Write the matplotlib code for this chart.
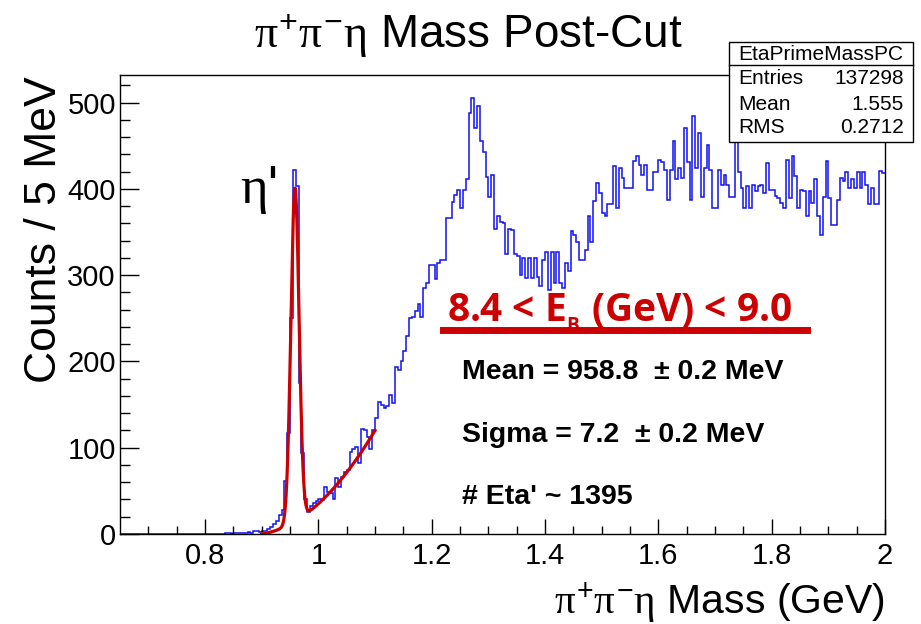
import numpy as np
import matplotlib
matplotlib.use("Agg")
import matplotlib.pyplot as plt
from matplotlib.patches import Rectangle
from matplotlib.lines import Line2D

plt.rcParams["font.family"] = ["Liberation Sans", "DejaVu Sans"]
plt.rcParams["mathtext.fontset"] = "custom"
plt.rcParams["mathtext.rm"] = "Liberation Sans"
plt.rcParams["mathtext.it"] = "Liberation Serif"
plt.rcParams["mathtext.bf"] = "Liberation Sans:bold"

# histogram: 5 MeV bins from 0.65 to 2.00 GeV, one row per 50 MeV
bin_lo = 0.65
bin_w = 0.005
counts = [
    0, 0, 0, 0, 0, 0, 0, 0, 0, 0,                      # 0.65
    0, 0, 0, 0, 0, 0, 0, 0, 0, 0,                      # 0.70
    0, 0, 0, 0, 0, 0, 0, 0, 0, 0,                      # 0.75
    0, 0, 0, 0, 0, 0, 0, 1, 1, 0,                      # 0.80
    1, 1, 1, 1, 1, 2, 1, 4, 4, 2,                      # 0.85
    3, 4, 6, 8, 12, 15, 22, 28, 61, 117,               # 0.90
    250, 422, 403, 175, 94, 40, 25, 32, 36, 38,        # 0.95
    41, 39, 55, 49, 48, 40, 65, 55, 66, 72,            # 1.00
    74, 95, 99, 101, 82, 122, 121, 113, 99, 121,       # 1.05
    134, 153, 150, 146, 148, 161, 152, 194, 190, 200,  # 1.10
    212, 229, 250, 252, 258, 266, 252, 285, 291, 312,  # 1.15
    312, 296, 314, 318, 318, 366, 366, 385, 393, 399,  # 1.20
    378, 399, 411, 488, 505, 470, 496, 455, 443, 414,  # 1.25
    391, 416, 354, 368, 362, 360, 325, 354, 352, 325,  # 1.30
    322, 300, 320, 297, 320, 297, 320, 298, 287, 318,  # 1.35
    327, 283, 327, 291, 327, 291, 285, 314, 305, 351,  # 1.40
    347, 339, 318, 318, 329, 368, 339, 386, 407, 395,  # 1.45
    372, 368, 382, 382, 426, 378, 424, 413, 401, 401,  # 1.50
    401, 432, 438, 428, 416, 428, 399, 399, 420, 420,  # 1.55
    433, 431, 422, 387, 422, 455, 411, 424, 413, 470,  # 1.60
    431, 387, 484, 424, 465, 391, 424, 451, 422, 378,  # 1.65
    378, 422, 405, 416, 405, 391, 391, 463, 420, 401,  # 1.70
    378, 403, 378, 405, 397, 403, 405, 395, 430, 399,  # 1.75
    399, 392, 389, 384, 378, 434, 389, 438, 415, 378,  # 1.80
    399, 397, 368, 397, 384, 411, 368, 347, 391, 432,  # 1.85
    389, 358, 358, 387, 413, 409, 419, 401, 411, 401,  # 1.90
    419, 401, 419, 405, 382, 401, 382, 382, 421, 418,  # 1.95
]

# gaussian + quadratic background fit of the eta' peak
fit_mean = 0.9588
fit_sigma = 0.0072
fit_yield = 1395
fit_range = (0.90, 1.10)
bkg_p1 = 100.0
bkg_p2 = 2500.0

x_ticks = [0.8, 1.0, 1.2, 1.4, 1.6, 1.8, 2.0]
x_tick_labels = ["0.8", "1", "1.2", "1.4", "1.6", "1.8", "2"]
y_ticks = [0, 100, 200, 300, 400, 500]

stats_name = "EtaPrimeMassPC"
stats_rows = [("Entries", "137298"), ("Mean", "1.555"), ("RMS", "0.2712")]

W, H = 921, 624
fig = plt.figure(figsize=(W / 100, H / 100), dpi=100)
ax = fig.add_axes([120 / W, 1 - 534 / H, 765 / W, 459 / H])

edges = bin_lo + bin_w * np.arange(len(counts) + 1)
ax.stairs(counts, edges, color="#1010f0", lw=1.1, baseline=None)

xf = np.linspace(fit_range[0], fit_range[1], 400)
gauss = fit_yield * bin_w / (np.sqrt(2 * np.pi) * fit_sigma) * np.exp(-0.5 * ((xf - fit_mean) / fit_sigma) ** 2)
bkg = bkg_p1 * (xf - fit_range[0]) + bkg_p2 * (xf - fit_range[0]) ** 2
ax.plot(xf, gauss + bkg, color="#cc0000", lw=2.3)

ax.set_xlim(0.65, 2.0)
ax.set_ylim(0, 532)
ax.set_xticks(x_ticks)
ax.set_xticklabels(x_tick_labels)
ax.set_xticks(np.arange(0.70, 2.0, 0.05), minor=True)
ax.set_yticks(y_ticks)
ax.set_yticks(np.arange(0, 531, 20), minor=True)
ax.tick_params(axis="both", which="both", direction="in", top=False, right=False,
               labelsize=21, width=1)
ax.tick_params(axis="x", which="major", length=11, pad=6)
ax.tick_params(axis="x", which="minor", length=6)
ax.tick_params(axis="y", which="major", length=14, pad=3)
ax.tick_params(axis="y", which="minor", length=7)
for s in ax.spines.values():
    s.set_linewidth(1)

# titles
fig.text(468 / W, 1 - 36 / H, r"$\pi^{+}\pi^{-}\eta$ Mass Post-Cut", fontsize=33,
         ha="center", va="center")
fig.text(45 / W, 1 - 76 / H, "Counts / 5 MeV", fontsize=32, rotation=90,
         ha="center", va="top")
fig.text(885 / W, 1 - 603 / H, r"$\pi^{+}\pi^{-}\eta$ Mass (GeV)", fontsize=29.5,
         ha="right", va="center")

# eta' label
fig.text(240 / W, 1 - 203 / H, r"$\eta$'", fontsize=38, ha="left", va="baseline")

# energy range label with underline
fig.text(447 / W, 1 - 322 / H, r"8.4 < E$_\mathregular{_B}$ (GeV) < 9.0", fontsize=28,
         color="#cc0000", family=["Open Sans", "DejaVu Sans"], weight="bold",
         ha="left", va="baseline")
fig.add_artist(Line2D([443 / W, 807 / W], [1 - 330 / H, 1 - 330 / H], color="#cc0000",
                      lw=5, transform=fig.transFigure))

fit_lines = ["Mean = 958.8  \u00b1 0.2 MeV", "Sigma = 7.2  \u00b1 0.2 MeV", "# Eta' ~ 1395"]
for txt, yy in zip(fit_lines, [372, 435, 497]):
    fig.text(462 / W, 1 - yy / H, txt, fontsize=20.5, weight="bold", ha="left", va="center")

# stats box
bx0, bx1, by0, by1, bsep = 729, 913, 42, 142, 65
fig.add_artist(Rectangle((bx0 / W, 1 - by1 / H), (bx1 - bx0) / W, (by1 - by0) / H,
                         facecolor="white", edgecolor="black", lw=1,
                         transform=fig.transFigure, zorder=5))
fig.add_artist(Line2D([bx0 / W, bx1 / W], [1 - bsep / H, 1 - bsep / H], color="black",
                      lw=1, transform=fig.transFigure, zorder=6))
fig.text((bx0 + bx1) / 2 / W, 1 - 54 / H, stats_name, fontsize=15, ha="center",
         va="center", zorder=7)
for (lab, val), yy in zip(stats_rows, [79, 104, 128]):
    fig.text(738 / W, 1 - yy / H, lab, fontsize=15, ha="left", va="center", zorder=7)
    fig.text(904 / W, 1 - yy / H, val, fontsize=15, ha="right", va="center", zorder=7)

fig.savefig("out.png", dpi=100)
